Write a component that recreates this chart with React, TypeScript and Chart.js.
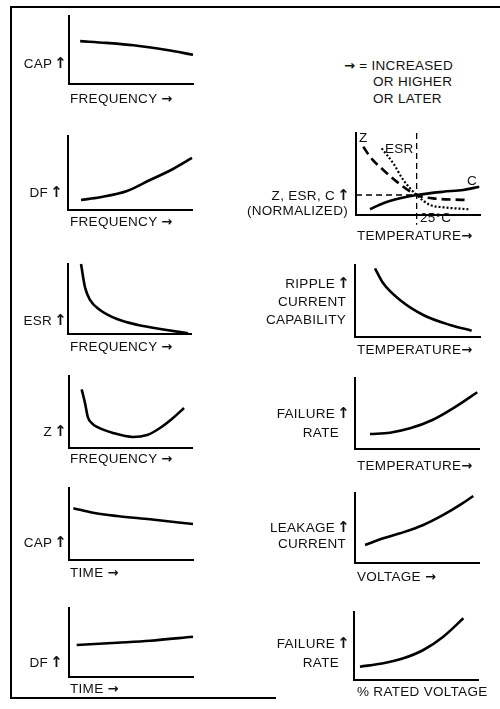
import React, { useEffect, useRef } from "react";
import { Chart, registerables } from "chart.js";

Chart.register(...registerables);

// ---------- data (normalised 0..100 on each small axis) ----------
const capFreqX = [9, 30, 52, 79, 100];
const capFreqY = [63, 60.5, 57, 50, 43];

const dfFreqX = [10.5, 25.8, 47.6, 66.1, 84.7, 100];
const dfFreqY = [13.5, 17.2, 25.7, 40.5, 55.4, 70.3];

const esrFreqX = [10.6, 13.8, 17.9, 26, 39.8, 56.9, 78.9, 97.6];
const esrFreqY = [100, 67, 48.6, 34.3, 21.4, 12.9, 6.2, 1];

const zFreqX = [10.3, 13, 15.4, 18.7, 22.8, 35.8, 52, 63.4, 74, 84.6, 93.5];
const zFreqY = [81.5, 62.5, 42.5, 34.3, 29.2, 20.8, 15.3, 18, 27.8, 41.7, 55.6];

const capTimeX = [3.5, 19.4, 38.7, 65.3, 100];
const capTimeY = [71.8, 65.7, 61.1, 56.5, 50];

const dfTimeX = [6.2, 38.7, 65.3, 100];
const dfTimeY = [46.4, 49.7, 52.6, 58.4];

const zTempX = [5.9, 11.3, 22, 32.8, 48.9, 62.1, 89.2];
const zTempY = [83.3, 71.1, 54.9, 40.7, 24.4, 20.3, 18.3];
const esrTempX = [20.7, 30.1, 38.2, 48.9, 59.7, 70.4, 90.6];
const esrTempY = [81.3, 62.9, 42.7, 24.4, 12.2, 9.4, 7];
const cTempX = [11.3, 22, 35.5, 48.9, 70.4, 86.5, 99.4];
const cTempY = [7, 14.3, 20.3, 24.4, 28.4, 30.5, 34.5];
const refTempX = 48.9; // 25°C
const refLevelY = 24.4; // normalised value 1
const refTop = 100;
const refBelow = -12;

const rippleTempX = [16, 22.6, 36, 54.6, 76, 93.3];
const rippleTempY = [95.4, 74.5, 51.4, 30.6, 16.7, 8.8];

const failTempX = [12.1, 28.2, 44.4, 62.4, 81.2, 98.6];
const failTempY = [21.1, 23, 29.1, 40.8, 59.6, 79.9];

const leakVoltX = [8.1, 22.8, 36.3, 55.1, 71.2, 84.7, 95.4];
const leakVoltY = [25.7, 35.3, 42.4, 54.3, 68.6, 82.9, 95.7];

const failVoltX = [4.8, 23.6, 39.8, 55.9, 72, 88.2];
const failVoltY = [19.6, 24.5, 31.9, 44.1, 63.7, 90.7];

// ---------- layout ----------
const W = 500;
const H = 709;
const PAD = 14;

type Series = {
  x: number[];
  y: number[];
  dash?: number[];
  width?: number;
  straight?: boolean;
};

type Area = { l: number; t: number; r: number; b: number };

function Panel({ area, series }: { area: Area; series: Series[] }) {
  const ref = useRef<HTMLCanvasElement>(null);
  const w = area.r - area.l + 2 * PAD;
  const h = area.b - area.t + 2 * PAD;
  useEffect(() => {
    const axis = (horizontal: boolean) => ({
      type: "linear" as const,
      min: 0,
      max: 100,
      ticks: { display: false },
      grid: { display: false, drawTicks: false },
      border: { display: true, color: "#000", width: 2 },
      afterFit: (s: any) => {
        if (horizontal) s.height = 0;
        else s.width = 0;
      },
    });
    const chart = new Chart(ref.current as HTMLCanvasElement, {
      type: "line",
      data: {
        datasets: series.map((s) => ({
          data: s.x.map((v, i) => ({ x: v, y: s.y[i] })),
          borderColor: "#000",
          borderWidth: s.width ?? 2.6,
          borderDash: s.dash ?? [],
          borderCapStyle: "butt",
          pointRadius: 0,
          fill: false,
          clip: false,
          tension: s.straight ? 0 : 0.4,
          cubicInterpolationMode: s.straight ? "default" : "monotone",
        })) as any,
      },
      options: {
        animation: false,
        responsive: false,
        maintainAspectRatio: false,
        events: [],
        layout: { padding: PAD },
        plugins: { legend: { display: false }, tooltip: { enabled: false } },
        scales: { x: axis(true), y: axis(false) } as any,
      },
    });
    return () => chart.destroy();
  }, []);
  return (
    <canvas
      ref={ref}
      width={w}
      height={h}
      style={{ position: "absolute", left: area.l - PAD, top: area.t - PAD, width: w, height: h }}
    />
  );
}

type Lbl = { text: string; x: number; y: number; align?: "left" | "right" };

function renderText(t: string) {
  const parts = t.split(/([↑→])/);
  return parts.map((p, i) =>
    p === "↑" ? (
      <span
        key={i}
        style={{ fontFamily: "'DejaVu Sans', sans-serif", fontWeight: 700, fontSize: 15, margin: "0 -3px 0 -2px" }}
      >
        {p}
      </span>
    ) : p === "→" ? (
      <span key={i} style={{ fontFamily: "'DejaVu Sans', sans-serif", fontWeight: 700, fontSize: 13 }}>{p}</span>
    ) : (
      <React.Fragment key={i}>{p}</React.Fragment>
    )
  );
}

function Label({ l }: { l: Lbl }) {
  const style: React.CSSProperties = {
    position: "absolute",
    top: l.y - 8,
    height: 16,
    lineHeight: "16px",
    whiteSpace: "pre",
  };
  if (l.align === "right") style.right = W - l.x;
  else style.left = l.x;
  return <div style={style}>{renderText(l.text)}</div>;
}

const labels: Lbl[] = [
  // legend
  { text: "→ = INCREASED", x: 344, y: 66 },
  { text: "OR HIGHER", x: 373, y: 82 },
  { text: "OR LATER", x: 373, y: 99 },
  // left column
  { text: "CAP ↑", x: 64, y: 63, align: "right" },
  { text: "FREQUENCY →", x: 70, y: 99 },
  { text: "DF ↑", x: 60, y: 192, align: "right" },
  { text: "FREQUENCY →", x: 70, y: 222 },
  { text: "ESR ↑", x: 64, y: 320, align: "right" },
  { text: "FREQUENCY →", x: 70, y: 347 },
  { text: "Z ↑", x: 64, y: 431, align: "right" },
  { text: "FREQUENCY →", x: 70, y: 459 },
  { text: "CAP ↑", x: 64, y: 542, align: "right" },
  { text: "TIME →", x: 70, y: 573 },
  { text: "DF ↑", x: 60, y: 662, align: "right" },
  { text: "TIME →", x: 70, y: 689 },
  // right column
  { text: "Z", x: 359, y: 138 },
  { text: "ESR", x: 385, y: 149 },
  { text: "C", x: 467, y: 181 },
  { text: "25°C", x: 420, y: 218 },
  { text: "Z, ESR, C ↑", x: 347, y: 195, align: "right" },
  { text: "(NORMALIZED)", x: 348, y: 211, align: "right" },
  { text: "TEMPERATURE→", x: 357, y: 236 },
  { text: "RIPPLE ↑", x: 347, y: 283, align: "right" },
  { text: "CURRENT", x: 346, y: 302, align: "right" },
  { text: "CAPABILITY", x: 346, y: 320, align: "right" },
  { text: "TEMPERATURE→", x: 357, y: 350 },
  { text: "FAILURE ↑", x: 347, y: 413, align: "right" },
  { text: "RATE", x: 339, y: 433, align: "right" },
  { text: "TEMPERATURE→", x: 357, y: 466 },
  { text: "LEAKAGE ↑", x: 347, y: 527, align: "right" },
  { text: "CURRENT", x: 346, y: 544, align: "right" },
  { text: "VOLTAGE →", x: 357, y: 577 },
  { text: "FAILURE ↑", x: 347, y: 643, align: "right" },
  { text: "RATE", x: 339, y: 663, align: "right" },
  { text: "% RATED VOLTAGE", x: 357, y: 692 },
];

const solid = (x: number[], y: number[]): Series => ({ x, y });

export default function App() {
  return (
    <div
      style={{
        position: "absolute",
        left: 0,
        top: 0,
        width: W,
        height: H,
        background: "#fff",
        overflow: "hidden",
        fontFamily: "'Liberation Sans', Arial, Helvetica, sans-serif",
        fontSize: 13.5,
        letterSpacing: 0.3,
        color: "#111",
      }}
    >
      {/* frame */}
      <div style={{ position: "absolute", left: 10, top: 6, width: 490, height: 2, background: "#000" }} />
      <div style={{ position: "absolute", left: 10, top: 6, width: 2, height: 693, background: "#000" }} />
      <div style={{ position: "absolute", left: 10, top: 697, width: 266, height: 2, background: "#000" }} />

      <Panel area={{ l: 69, t: 16, r: 193, b: 84 }} series={[solid(capFreqX, capFreqY)]} />
      <Panel area={{ l: 68, t: 136, r: 192, b: 210 }} series={[solid(dfFreqX, dfFreqY)]} />
      <Panel area={{ l: 68, t: 264, r: 191, b: 334 }} series={[solid(esrFreqX, esrFreqY)]} />
      <Panel area={{ l: 69, t: 376, r: 192, b: 448 }} series={[solid(zFreqX, zFreqY)]} />
      <Panel area={{ l: 69, t: 488, r: 193, b: 560 }} series={[solid(capTimeX, capTimeY)]} />
      <Panel area={{ l: 69, t: 608, r: 193, b: 677 }} series={[solid(dfTimeX, dfTimeY)]} />

      <Panel
        area={{ l: 356, t: 133, r: 480, b: 215 }}
        series={[
          { x: [refTempX, refTempX], y: [refTop, refBelow], dash: [6, 4], width: 1.3, straight: true },
          { x: [0, refTempX], y: [refLevelY, refLevelY], dash: [6, 4], width: 1.3, straight: true },
          { x: zTempX, y: zTempY, dash: [9, 5], width: 2.6 },
          { x: esrTempX, y: esrTempY, dash: [2, 2], width: 2.2 },
          solid(cTempX, cTempY),
        ]}
      />
      <Panel area={{ l: 355, t: 265, r: 480, b: 337 }} series={[solid(rippleTempX, rippleTempY)]} />
      <Panel area={{ l: 355, t: 378, r: 479, b: 449 }} series={[solid(failTempX, failTempY)]} />
      <Panel area={{ l: 355, t: 493, r: 479, b: 563 }} series={[solid(leakVoltX, leakVoltY)]} />
      <Panel area={{ l: 354, t: 612, r: 478, b: 680 }} series={[solid(failVoltX, failVoltY)]} />

      {labels.map((l, i) => (
        <Label key={i} l={l} />
      ))}
    </div>
  );
}
